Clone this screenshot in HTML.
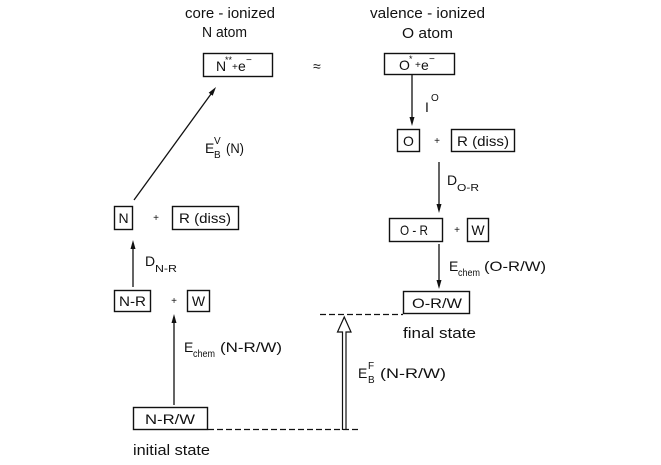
<!DOCTYPE html>
<html><head><meta charset="utf-8"><style>
html,body{margin:0;padding:0;background:#fff;}
svg{display:block;}
text{font-family:"Liberation Sans",sans-serif;fill:#111;}
</style></head><body>
<svg width="661" height="465" viewBox="0 0 661 465" xmlns="http://www.w3.org/2000/svg">
<rect width="661" height="465" fill="#fff"/>
<g fill="none" stroke="#111" stroke-width="1.4">
<rect x="203.5" y="53.5" width="69" height="23"/>
<rect x="384.5" y="53.5" width="70" height="21"/>
<rect x="397.5" y="129.5" width="22" height="22"/>
<rect x="451.5" y="129.5" width="63" height="22"/>
<rect x="389.5" y="218.5" width="53" height="23"/>
<rect x="467.5" y="218.5" width="21" height="23"/>
<rect x="403.5" y="291.5" width="66" height="22"/>
<rect x="114.5" y="206.5" width="18" height="23"/>
<rect x="172.5" y="206.5" width="66" height="23"/>
<rect x="114.5" y="290.5" width="36" height="21"/>
<rect x="187.5" y="290.5" width="22" height="21"/>
<rect x="133.5" y="407.5" width="74" height="22"/>
</g>
<g stroke="#111" stroke-width="1.3" fill="none">
<line x1="134" y1="200" x2="211" y2="94"/>
<line x1="133" y1="287" x2="133" y2="247"/>
<line x1="174" y1="405" x2="174" y2="321"/>
<line x1="412" y1="75" x2="412" y2="119"/>
<line x1="439" y1="162" x2="439" y2="206"/>
<line x1="439" y1="244" x2="439" y2="282"/>
<line x1="320" y1="314.5" x2="403" y2="314.5" stroke-dasharray="6,3"/>
<line x1="208" y1="429.5" x2="360" y2="429.5" stroke-dasharray="6,3"/>
<path d="M342.5,430 V332 H337.5 L344.25,317 L351,332 H346 V430" stroke-width="1.2"/>
</g>
<g fill="#111">
<polygon points="216,87 212.7,95.8 208.7,92.8"/>
<polygon points="133,240 130.5,249 135.5,249"/>
<polygon points="174,314 171.5,323 176.5,323"/>
<polygon points="412,126 409.5,117 414.5,117"/>
<polygon points="439,213 436.5,204 441.5,204"/>
<polygon points="439,289 436.5,280 441.5,280"/>
</g>

<text x="185" y="18" font-size="15" textLength="90" lengthAdjust="spacingAndGlyphs">core - ionized</text>
<text x="202" y="37" font-size="15" textLength="45" lengthAdjust="spacingAndGlyphs">N  atom</text>
<text x="370" y="18" font-size="15" textLength="115" lengthAdjust="spacingAndGlyphs">valence - ionized</text>
<text x="402" y="38" font-size="15" textLength="51" lengthAdjust="spacingAndGlyphs">O  atom</text>

<text x="216" y="71" font-size="14">N</text>
<text x="225" y="63" font-size="9">**</text>
<text x="232" y="70" font-size="10">+</text>
<text x="238" y="71" font-size="14">e</text>
<text x="246" y="63" font-size="10">−</text>

<text x="313" y="71" font-size="14">≈</text>

<text x="399" y="70" font-size="14">O</text>
<text x="409" y="62" font-size="9">*</text>
<text x="415" y="68" font-size="10">+</text>
<text x="421" y="70" font-size="14">e</text>
<text x="429" y="62" font-size="10">−</text>

<text x="425" y="112" font-size="14">I</text>
<text x="431" y="101" font-size="10">O</text>

<text x="408.5" y="146" font-size="14" text-anchor="middle">O</text>
<text x="437" y="144" font-size="10" text-anchor="middle">+</text>
<text x="457" y="146" font-size="14" textLength="52" lengthAdjust="spacingAndGlyphs">R (diss)</text>

<text x="447" y="185" font-size="14">D</text>
<text x="457" y="191" font-size="10" textLength="22" lengthAdjust="spacingAndGlyphs">O-R</text>

<text x="400" y="235" font-size="14" textLength="28" lengthAdjust="spacingAndGlyphs">O - R</text>
<text x="457" y="233" font-size="10" text-anchor="middle">+</text>
<text x="478" y="235" font-size="14" text-anchor="middle">W</text>

<text x="449" y="271" font-size="14">E</text>
<text x="458" y="276" font-size="10" textLength="22" lengthAdjust="spacingAndGlyphs">chem</text>
<text x="484" y="271" font-size="14" textLength="62" lengthAdjust="spacingAndGlyphs">(O-R/W)</text>

<text x="412" y="308" font-size="14" textLength="50" lengthAdjust="spacingAndGlyphs">O-R/W</text>
<text x="403" y="338" font-size="15" textLength="73" lengthAdjust="spacingAndGlyphs">final  state</text>

<text x="205" y="153" font-size="14">E</text>
<text x="214" y="144" font-size="10">V</text>
<text x="214" y="158" font-size="10">B</text>
<text x="226" y="153" font-size="14" textLength="18" lengthAdjust="spacingAndGlyphs">(N)</text>

<text x="123.5" y="223" font-size="14" text-anchor="middle">N</text>
<text x="156" y="221" font-size="10" text-anchor="middle">+</text>
<text x="179" y="223" font-size="14" textLength="52" lengthAdjust="spacingAndGlyphs">R (diss)</text>

<text x="145" y="266" font-size="14">D</text>
<text x="155" y="272" font-size="10" textLength="22" lengthAdjust="spacingAndGlyphs">N-R</text>

<text x="119" y="306" font-size="14" textLength="27" lengthAdjust="spacingAndGlyphs">N-R</text>
<text x="174" y="304" font-size="10" text-anchor="middle">+</text>
<text x="198.5" y="306" font-size="14" text-anchor="middle">W</text>

<text x="184" y="352" font-size="14">E</text>
<text x="193" y="357" font-size="10" textLength="22" lengthAdjust="spacingAndGlyphs">chem</text>
<text x="220" y="352" font-size="14" textLength="62" lengthAdjust="spacingAndGlyphs">(N-R/W)</text>

<text x="358" y="378" font-size="14">E</text>
<text x="368" y="369" font-size="10">F</text>
<text x="368" y="383" font-size="10">B</text>
<text x="380" y="378" font-size="14" textLength="66" lengthAdjust="spacingAndGlyphs">(N-R/W)</text>

<text x="145" y="424" font-size="14" textLength="50" lengthAdjust="spacingAndGlyphs">N-R/W</text>
<text x="133" y="455" font-size="15" textLength="77" lengthAdjust="spacingAndGlyphs">initial  state</text>
</svg>
</body></html>
